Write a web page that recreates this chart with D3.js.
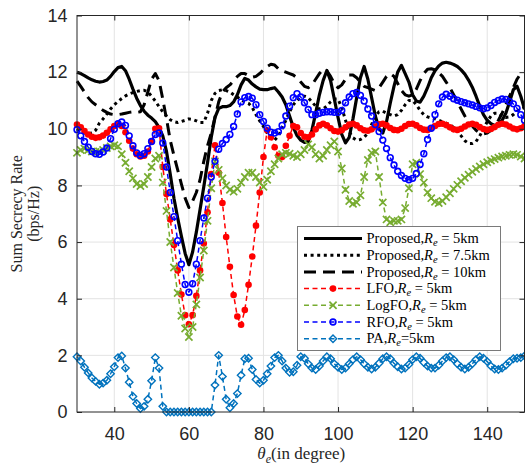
<!DOCTYPE html>
<html>
<head>
<meta charset="utf-8">
<script src="https://cdn.jsdelivr.net/npm/d3@7"></script>
<style>
  html, body { margin: 0; padding: 0; background: #fff; }
  svg { display: block; }
</style>
</head>
<body>
<svg id="chart" width="525" height="469"></svg>
<script>
// Eavesdropper angle, one sample per degree
const theta = d3.range(30, 151);

const xTicks = [40, 60, 80, 100, 120, 140];
const yTicks = [0, 2, 4, 6, 8, 10, 12, 14];

// Sum secrecy rate (bps/Hz) per angle, 30..150 degrees
const proposed5 = [
  12.00, 11.95, 11.88, 11.80, 11.73, 11.68, 11.65, 11.67, 11.72, 11.85,
  12.02, 12.16, 12.20, 12.05, 11.75, 11.40, 11.08, 10.82, 10.62, 10.48,
  10.38, 10.25, 10.05, 9.75, 9.20, 8.40, 7.55, 6.85, 6.20, 5.60,
  5.20, 5.65, 6.35, 7.15, 7.95, 8.80, 9.70, 10.40, 10.72, 10.78,
  10.78, 10.82, 10.95, 11.20, 11.55, 11.78, 11.72, 11.58, 11.48, 11.40,
  11.38, 11.38, 11.42, 11.45, 11.30, 11.12, 10.85, 10.45, 10.05, 9.76,
  9.60, 9.52, 9.55, 9.95, 10.55, 11.20, 11.70, 12.06, 11.70, 11.05,
  10.40, 9.80, 9.50, 9.70, 10.35, 11.10, 11.80, 12.20, 11.75, 11.10,
  10.45, 10.00, 9.85, 10.25, 10.90, 11.50, 12.00, 12.24, 11.95, 11.65,
  11.20, 10.98, 10.94, 11.15, 11.45, 11.80, 12.05, 12.22, 12.32, 12.35,
  12.32, 12.27, 12.20, 12.08, 11.93, 11.72, 11.47, 11.15, 10.80, 10.50,
  10.30, 10.18, 10.12, 10.14, 10.30, 10.55, 10.95, 11.38, 11.50, 11.15,
  10.70
];

const proposed75 = [
  10.00, 9.90, 9.85, 9.83, 9.85, 9.95, 10.20, 10.35, 10.52, 10.70,
  10.85, 10.96, 11.07, 11.16, 11.23, 11.28, 11.32, 11.35, 11.36, 11.30,
  11.15, 10.98, 10.78, 10.60, 10.45, 10.32, 10.25, 10.22, 10.26, 10.30,
  10.35, 10.33, 10.28, 10.22, 10.22, 10.55, 11.00, 11.25, 11.35, 11.38,
  11.35, 11.30, 11.20, 11.12, 11.02, 10.95, 10.90, 10.75, 10.50, 10.28,
  10.08, 9.85, 9.68, 9.60, 9.75, 10.00, 10.30, 10.60, 10.85, 11.00,
  11.10, 11.15, 11.10, 10.95, 10.80, 10.70, 10.70, 10.80, 10.95, 11.05,
  11.05, 10.75, 10.30, 9.90, 9.68, 9.60, 9.62, 9.70, 9.85, 10.15,
  10.45, 10.60, 10.62, 10.55, 10.50, 10.45, 10.50, 10.65, 10.85, 11.00,
  11.00, 10.85, 10.65, 10.50, 10.42, 10.38, 10.35, 10.30, 10.25, 10.20,
  10.15, 10.05, 9.90, 9.75, 9.58, 9.48, 9.48, 9.55, 9.75, 10.00,
  10.25, 10.45, 10.55, 10.55, 10.45, 10.40, 10.42, 10.50, 10.62, 10.70,
  10.75
];

const proposed10 = [
  11.68, 11.50, 11.30, 11.10, 10.95, 10.85, 10.75, 10.65, 10.58, 10.52,
  10.50, 10.50, 10.52, 10.55, 10.58, 10.60, 10.58, 10.60, 10.85, 11.30,
  11.75, 11.95, 11.70, 11.05, 10.35, 9.60, 9.05, 8.55, 8.05, 7.55,
  7.22, 7.45, 7.75, 8.20, 8.85, 9.40, 9.85, 10.40, 10.95, 11.30,
  11.45, 11.55, 11.70, 11.85, 11.95, 11.95, 11.88, 11.82, 11.85, 11.95,
  12.08, 12.20, 12.28, 12.25, 12.12, 12.05, 12.00, 11.95, 11.90, 11.80,
  11.65, 11.50, 11.45, 11.55, 11.75, 11.95, 12.10, 12.05, 11.85, 11.60,
  11.45, 11.55, 11.75, 11.90, 11.90, 11.80, 11.65, 11.50, 11.45, 11.40,
  11.35, 11.45, 11.65, 11.85, 11.95, 11.85, 11.60, 11.35, 11.20, 11.15,
  11.20, 11.40, 11.70, 11.95, 12.10, 12.12, 12.08, 11.98, 11.85, 11.65,
  11.45, 11.20, 10.95, 10.70, 10.45, 10.25, 10.10, 9.95, 9.85, 9.82,
  9.85, 9.95, 10.10, 10.30, 10.55, 10.85, 11.15, 11.45, 11.75, 11.95,
  12.00
];

const lfo = [
  10.15, 10.05, 9.92, 9.80, 9.72, 9.68, 9.70, 9.76, 9.86, 9.98,
  10.10, 10.17, 10.10, 9.88, 9.58, 9.30, 9.10, 9.02, 9.05, 9.20,
  9.55, 10.00, 10.02, 8.65, 7.70, 6.80, 5.90, 5.00, 4.15, 3.42,
  3.10, 3.42, 4.10, 5.00, 5.95, 7.05, 8.40, 9.42, 8.45, 7.38,
  6.18, 5.13, 4.13, 3.37, 3.08, 3.60, 4.49, 5.49, 6.58, 7.75,
  9.00, 9.95, 9.70, 9.35, 9.05, 9.00, 9.40, 9.75, 10.10, 10.05,
  9.85, 9.72, 9.70, 9.80, 9.98, 10.12, 10.18, 10.12, 10.02, 9.92,
  9.90, 9.95, 10.05, 10.15, 10.18, 10.12, 10.02, 9.95, 9.93, 9.98,
  10.08, 10.16, 10.18, 10.12, 10.03, 9.96, 9.95, 10.00, 10.10, 10.17,
  10.18, 10.12, 10.03, 9.97, 9.96, 10.02, 10.10, 10.17, 10.18, 10.13,
  10.05, 9.98, 9.96, 10.00, 10.08, 10.15, 10.18, 10.14, 10.06, 9.99,
  9.96, 9.99, 10.06, 10.14, 10.18, 10.15, 10.08, 10.01, 9.98, 10.02,
  10.10
];

const logfo = [
  9.15, 9.25, 9.30, 9.25, 9.20, 9.18, 9.20, 9.25, 9.32, 9.38,
  9.42, 9.38, 9.10, 8.80, 8.50, 8.25, 8.05, 7.98, 8.05, 8.30,
  8.65, 8.95, 9.05, 8.10, 7.10, 6.00, 5.10, 4.20, 3.40, 2.95,
  2.65, 3.00, 3.80, 4.75, 5.70, 6.75, 7.90, 8.85, 8.55, 8.25,
  8.00, 7.85, 7.78, 7.88, 8.10, 8.30, 8.45, 8.45, 8.30, 8.10,
  7.95, 8.20, 8.50, 8.75, 8.95, 9.10, 9.15, 9.12, 9.05, 9.00,
  9.10, 9.25, 9.45, 9.35, 9.10, 8.95, 9.05, 9.25, 9.42, 9.55,
  9.20, 8.60, 7.85, 7.45, 7.35, 7.40, 7.65, 8.30, 8.90, 9.15,
  9.20, 8.30, 7.40, 6.80, 6.70, 6.75, 6.75, 6.80, 7.20, 7.90,
  8.75, 8.80, 8.40, 8.10, 7.75, 7.55, 7.42, 7.38, 7.45, 7.58,
  7.72, 7.88, 8.02, 8.15, 8.27, 8.38, 8.48, 8.58, 8.67, 8.75,
  8.82, 8.88, 8.93, 8.98, 9.02, 9.05, 9.08, 9.10, 9.08, 9.02,
  8.95
];

const rfo = [
  9.97, 9.75, 9.55, 9.35, 9.20, 9.12, 9.10, 9.18, 9.32, 9.65,
  9.98, 10.18, 10.24, 10.12, 9.75, 9.40, 9.15, 9.06, 9.12, 9.30,
  9.55, 9.80, 9.85, 9.50, 8.65, 7.75, 6.90, 6.05, 5.22, 4.50,
  4.23, 4.53, 5.22, 6.05, 6.85, 7.55, 8.30, 8.85, 9.28, 9.48,
  9.62, 9.80, 10.08, 10.52, 10.95, 11.10, 11.14, 11.08, 10.85, 10.50,
  10.26, 10.02, 9.88, 9.85, 9.90, 10.12, 10.45, 10.80, 11.10, 11.24,
  11.12, 10.92, 10.68, 10.50, 10.50, 10.55, 10.58, 10.60, 10.60, 10.58,
  10.58, 10.65, 10.92, 11.12, 11.24, 11.28, 11.18, 10.98, 10.70, 10.45,
  10.15, 9.90, 9.60, 9.30, 8.98, 8.72, 8.50, 8.35, 8.25, 8.20,
  8.25, 8.42, 8.74, 9.12, 9.62, 10.02, 10.50, 10.88, 11.12, 11.22,
  11.15, 11.06, 11.01, 10.96, 10.92, 10.88, 10.84, 10.79, 10.74, 10.71,
  10.74, 10.82, 10.93, 11.00, 11.05, 11.04, 10.96, 10.88, 10.72, 10.50,
  10.30
];

const pa = [
  1.95, 1.80, 1.58, 1.38, 1.20, 1.08, 0.98, 1.02, 1.12, 1.35,
  1.60, 1.92, 1.98, 1.55, 1.05, 0.55, 0.30, 0.12, 0.20, 0.45,
  1.10, 1.92, 1.55, 0.20, 0.00, 0.00, 0.00, 0.00, 0.00, 0.00,
  0.00, 0.00, 0.00, 0.00, 0.00, 0.00, 0.00, 0.95, 2.00, 1.25,
  0.45, 0.15, 0.30, 0.65, 1.30, 1.88, 1.90, 1.50, 1.15, 1.02,
  1.12, 1.35, 1.62, 1.92, 2.00, 1.80, 1.55, 1.40, 1.42, 1.65,
  1.95, 1.90, 1.70, 1.55, 1.50, 1.62, 1.80, 1.95, 1.88, 1.70,
  1.58, 1.50, 1.55, 1.70, 1.85, 1.95, 1.85, 1.70, 1.58, 1.52,
  1.58, 1.72, 1.88, 1.95, 1.88, 1.72, 1.60, 1.52, 1.55, 1.68,
  1.85, 1.95, 1.90, 1.75, 1.62, 1.55, 1.55, 1.65, 1.80, 1.92,
  1.95, 1.85, 1.70, 1.58, 1.52, 1.58, 1.70, 1.85, 1.95, 1.90,
  1.78, 1.62, 1.52, 1.50, 1.55, 1.65, 1.78, 1.88, 1.90, 1.92,
  1.98
];

// Series styling, in drawing / legend order
const series = [
  { label: ["Proposed,", " = 5km"],   values: proposed5,  color: "#000", width: 3.2, dash: null,     marker: null },
  { label: ["Proposed,", " = 7.5km"], values: proposed75, color: "#000", width: 3,   dash: "3,3.6",  marker: null },
  { label: ["Proposed,", " = 10km"],  values: proposed10, color: "#000", width: 3,   dash: "12,7",   marker: null },
  { label: ["LFO,", " = 5km"],        values: lfo,        color: "#FF0000", width: 1.5, dash: "5,3.5", marker: "dot" },
  { label: ["LogFO,", " = 5km"],      values: logfo,      color: "#77AC30", width: 1.5, dash: "5,3.5", marker: "x" },
  { label: ["RFO,", " = 5km"],        values: rfo,        color: "#0000FF", width: 1.5, dash: "5,3.5", marker: "circle" },
  { label: ["PA,", "=5km"],           values: pa,         color: "#0072BD", width: 1.5, dash: "5,3.5", marker: "diamond" }
];

const plot = { left: 77, right: 524.5, top: 15.5, bottom: 412 };

const x = d3.scaleLinear().domain([30, 150]).range([plot.left, plot.right]);
const y = d3.scaleLinear().domain([0, 14]).range([plot.bottom, plot.top]);

const svg = d3.select("#chart");
const axisColor = "#262626";
const tickFont = "'Liberation Sans', Arial, sans-serif";
const serif = "'Liberation Serif', 'Times New Roman', serif";

// Grid
const grid = svg.append("g").attr("class", "grid");
grid.selectAll("line.gx").data(xTicks).join("line")
  .attr("x1", d => x(d)).attr("x2", d => x(d))
  .attr("y1", plot.top).attr("y2", plot.bottom)
  .attr("stroke", "#e3e3e3").attr("stroke-width", 1);
grid.selectAll("line.gy").data(yTicks.slice(1, -1)).join("line")
  .attr("x1", plot.left).attr("x2", plot.right)
  .attr("y1", d => y(d)).attr("y2", d => y(d))
  .attr("stroke", "#e3e3e3").attr("stroke-width", 1);

// Series lines and markers
const line = d3.line().x((d, i) => x(theta[i])).y(d => y(d));
const marks = svg.append("g").attr("class", "series");

function drawMarker(g, type, color, cx, cy) {
  if (type === "dot") {
    g.append("circle").attr("cx", cx).attr("cy", cy).attr("r", 3.3).attr("fill", color);
  } else if (type === "circle") {
    g.append("circle").attr("cx", cx).attr("cy", cy).attr("r", 2.9)
      .attr("fill", "none").attr("stroke", color).attr("stroke-width", 1.6);
  } else if (type === "x") {
    const r = 3.6;
    g.append("path")
      .attr("d", `M${cx - r},${cy - r}L${cx + r},${cy + r}M${cx - r},${cy + r}L${cx + r},${cy - r}`)
      .attr("stroke", color).attr("stroke-width", 1.7).attr("fill", "none");
  } else if (type === "diamond") {
    const r = 3.7;
    g.append("path")
      .attr("d", `M${cx},${cy - r}L${cx + r},${cy}L${cx},${cy + r}L${cx - r},${cy}Z`)
      .attr("stroke", color).attr("stroke-width", 1.4).attr("fill", "none");
  }
}

series.forEach(s => {
  const g = marks.append("g");
  g.append("path")
    .datum(s.values)
    .attr("d", line)
    .attr("fill", "none")
    .attr("stroke", s.color)
    .attr("stroke-width", s.width)
    .attr("stroke-dasharray", s.dash)
    .attr("stroke-linejoin", "round");
  if (s.marker) {
    s.values.forEach((v, i) => drawMarker(g, s.marker, s.color, x(theta[i]), y(v)));
  }
});

// Axes box with inward ticks
const xAxis = d3.axisBottom(x).tickValues(xTicks).tickSizeInner(-5).tickSizeOuter(0).tickPadding(15);
const yAxis = d3.axisLeft(y).tickValues(yTicks).tickSizeInner(-5).tickSizeOuter(0).tickPadding(9.5);
const xTop = d3.axisTop(x).tickValues(xTicks).tickSizeInner(-5).tickSizeOuter(0).tickFormat("");
const yRight = d3.axisRight(y).tickValues(yTicks).tickSizeInner(-5).tickSizeOuter(0).tickFormat("");

function styleAxis(g) {
  g.select(".domain").remove();
  g.selectAll("line").attr("stroke", axisColor);
  g.selectAll("text").attr("fill", axisColor).attr("font-family", tickFont).attr("font-size", 18);
}
svg.append("g").attr("transform", `translate(0,${plot.bottom})`).call(xAxis).call(styleAxis);
svg.append("g").attr("transform", `translate(${plot.left},0)`).call(yAxis).call(styleAxis);
svg.append("g").attr("transform", `translate(0,${plot.top})`).call(xTop).call(styleAxis);
svg.append("g").attr("transform", `translate(${plot.right},0)`).call(yRight).call(styleAxis);

svg.append("rect")
  .attr("x", plot.left).attr("y", plot.top)
  .attr("width", plot.right - plot.left).attr("height", plot.bottom - plot.top)
  .attr("fill", "none").attr("stroke", axisColor).attr("stroke-width", 1);

// Axis titles
const xt = svg.append("text")
  .attr("x", (plot.left + plot.right) / 2 + 0.5).attr("y", 459)
  .attr("text-anchor", "middle")
  .attr("font-family", serif).attr("font-size", 17).attr("fill", axisColor);
xt.append("tspan").attr("font-style", "italic").text("θ");
xt.append("tspan").attr("font-style", "italic").attr("font-size", 12).attr("dy", 3.5).text("e");
xt.append("tspan").attr("dy", -3.5).text("(in degree)");

const yMid = (plot.top + plot.bottom) / 2;
const ytitle = svg.append("g").attr("font-family", serif).attr("font-size", 16)
  .attr("fill", axisColor).attr("text-anchor", "middle");
ytitle.append("text")
  .attr("transform", `translate(22,${yMid}) rotate(-90)`)
  .text("Sum Secrecy Rate");
ytitle.append("text")
  .attr("transform", `translate(39,${yMid}) rotate(-90)`)
  .text("(bps/Hz)");

// Legend
const legend = { x: 297.5, y: 226.5, w: 203, h: 124, row0: 238.5, rowH: 16.7 };
const lg = svg.append("g").attr("class", "legend");
lg.append("rect")
  .attr("x", legend.x).attr("y", legend.y).attr("width", legend.w).attr("height", legend.h)
  .attr("fill", "#fff").attr("stroke", "#7a7a7a").attr("stroke-width", 1);

series.forEach((s, i) => {
  const cy = legend.row0 + i * legend.rowH;
  lg.append("line")
    .attr("x1", 304).attr("x2", 362).attr("y1", cy).attr("y2", cy)
    .attr("stroke", s.color).attr("stroke-width", s.width)
    .attr("stroke-dasharray", s.dash);
  if (s.marker) drawMarker(lg, s.marker, s.color, 333, cy);
  const t = lg.append("text")
    .attr("x", 366.5).attr("y", cy + 4.6)
    .attr("font-family", serif).attr("font-size", 14.5).attr("fill", "#000");
  t.append("tspan").text(s.label[0]);
  t.append("tspan").attr("font-style", "italic").text("R");
  t.append("tspan").attr("font-style", "italic").attr("font-size", 10.5).attr("dy", 3).text("e");
  t.append("tspan").attr("dy", -3).text(s.label[1]);
});
</script>
</body>
</html>
